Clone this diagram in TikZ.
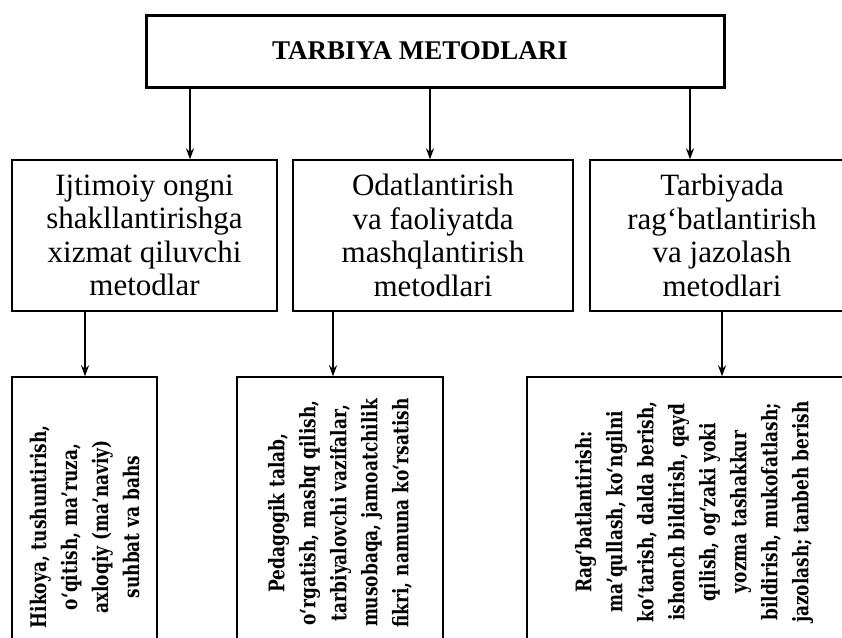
\documentclass[tikz,border=0pt]{standalone}
\usepackage{fontspec}
\setmainfont{Liberation Serif}
\newfontfamily\btfont{DejaVu Serif}[FakeStretch=0.79]
\usetikzlibrary{arrows.meta}
\begin{document}
\begin{tikzpicture}[x=1pt,y=-1pt,
  topbox/.style={draw,line width=3pt,minimum width=578pt,minimum height=72pt,inner sep=0pt,
    font=\bfseries\fontsize{27}{30}\selectfont},
  midbox/.style={draw,line width=1.4pt,inner sep=0pt,align=center,minimum height=151pt,
    font=\fontsize{31}{33.5}\selectfont},
  lowbox/.style={draw,line width=1.4pt,inner sep=0pt,align=center,rotate=90,
    font=\btfont\bfseries\fontsize{21.5}{31}\selectfont},
  arr/.style={line width=1.4pt,-{Stealth[length=11pt,width=8pt]}}]
\clip (0,0) rectangle (842,637);
\fill[white] (0,0) rectangle (842,637);
% top
\node[topbox] (top) at (435,51) {TARBIYA METODLARI\hspace*{30pt}};
% middle
\node[midbox,minimum width=265pt] (m1) at (144.5,235.5)
  {Ijtimoiy ongni\\shakllantirishga\\xizmat qiluvchi\\metodlar};
\node[midbox,minimum width=280pt] (m2) at (433,235.5)
  {Odatlantirish\\va faoliyatda\\mashqlantirish\\metodlari};
\node[midbox,minimum width=264pt] (m3) at (722,235.5)
  {Tarbiyada\\rag‘batlantirish\\va jazolash\\metodlari};
% bottom
\node[lowbox,minimum width=300pt,minimum height=145pt] (b1) at (84.5,527)
  {Hikoya, tushuntirish,\\o‘qitish, ma’ruza,\\axloqiy (ma’naviy)\\suhbat va bahs};
\node[lowbox,minimum width=272pt,minimum height=206pt] (b2) at (340,513)
  {Pedagogik talab,\\o‘rgatish, mashq qilish,\\tarbiyalovchi vazifalar,\\musobaqa, jamoatchilik\\fikri, namuna ko‘rsatish};
\node[lowbox,minimum width=270pt,minimum height=334pt] (b3) at (694,512)
  {Rag‘batlantirish:\\ma’qullash, ko‘ngilni\\ko‘tarish, dalda berish,\\ishonch bildirish, qayd\\qilish, og‘zaki yoki\\yozma tashakkur\\bildirish, mukofatlash;\\jazolash; tanbeh berish};
% arrow columns
\coordinate (c1) at (190,0);
\coordinate (c2) at (430,0);
\coordinate (c3) at (690,0);
\coordinate (d1) at (85,0);
\coordinate (d2) at (333,0);
\coordinate (d3) at (722,0);
\draw[arr] (top.south -| c1) -- (m1.north -| c1);
\draw[arr] (top.south -| c2) -- (m2.north -| c2);
\draw[arr] (top.south -| c3) -- (m3.north -| c3);
\draw[arr] (m1.south -| d1) -- (b1.east -| d1);
\draw[arr] (m2.south -| d2) -- (b2.east -| d2);
\draw[arr] (m3.south -| d3) -- (b3.east -| d3);
\end{tikzpicture}
\end{document}
